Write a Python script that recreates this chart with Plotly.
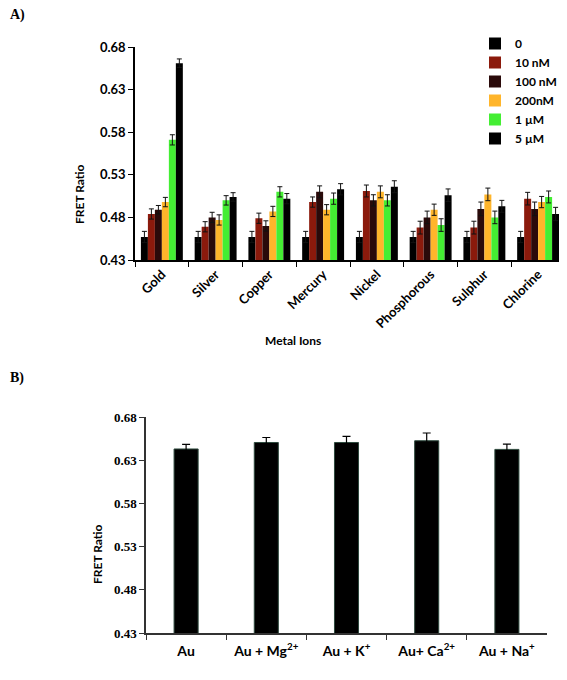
import plotly.graph_objects as go

# The page body has an 8px default margin; the figure is sized to fit the window.
OFF = 8
W, H = 567 - OFF, 680 - 2 * OFF

# ---------- Panel A data ----------
metals = ["Gold", "Silver", "Copper", "Mercury", "Nickel", "Phosphorous", "Sulphur", "Chlorine"]
series_names = ["0", "10 nM", "100 nM", "200nM", "1 µM", "5 µM"]
series_colors = ["#000000", "#8B1A0C", "#2A0A0A", "#FFB52B", "#44EE33", "#000000"]

val_0     = [0.457, 0.457, 0.457, 0.457, 0.457, 0.457, 0.457, 0.457]
val_10nM  = [0.484, 0.469, 0.479, 0.498, 0.511, 0.468, 0.468, 0.502]
val_100nM = [0.489, 0.480, 0.470, 0.510, 0.500, 0.480, 0.490, 0.490]
val_200nM = [0.498, 0.477, 0.487, 0.489, 0.510, 0.489, 0.507, 0.498]
val_1uM   = [0.571, 0.500, 0.510, 0.502, 0.500, 0.471, 0.480, 0.504]
val_5uM   = [0.661, 0.504, 0.502, 0.513, 0.516, 0.506, 0.493, 0.484]

err_0     = [0.0066, 0.0066, 0.0066, 0.0066, 0.0066, 0.0066, 0.0066, 0.0066]
err_10nM  = [0.006, 0.006, 0.006, 0.006, 0.007, 0.0075, 0.0075, 0.0074]
err_100nM = [0.005, 0.006, 0.006, 0.007, 0.0066, 0.0074, 0.008, 0.008]
err_200nM = [0.0055, 0.006, 0.006, 0.006, 0.007, 0.0066, 0.0074, 0.0066]
err_1uM   = [0.006, 0.0055, 0.006, 0.0066, 0.0066, 0.0074, 0.0074, 0.007]
err_5uM   = [0.005, 0.005, 0.006, 0.0066, 0.007, 0.0074, 0.007, 0.0078]

series_values = [val_0, val_10nM, val_100nM, val_200nM, val_1uM, val_5uM]
series_errors = [err_0, err_10nM, err_100nM, err_200nM, err_1uM, err_5uM]

# ---------- Panel B data ----------
b_categories = ["Au", "Au + Mg", "Au + K", "Au+ Ca", "Au + Na"]
b_ticktext = ["Au", "Au + Mg<sup>2+</sup>", "Au + K<sup>+</sup>", "Au+ Ca<sup>2+</sup>", "Au + Na<sup>+</sup>"]
b_values = [0.643, 0.6505, 0.6505, 0.6525, 0.6425]
b_errors = [0.0054, 0.0058, 0.007, 0.009, 0.0062]

y_ticks = [0.43, 0.48, 0.53, 0.58, 0.63, 0.68]


def px_x(x):
    return (x - OFF) / W


def px_y(y):
    return 1 - (y - OFF) / H


SANS = "Lato"
SERIF = "Liberation Serif"

fig = go.Figure()

for name, color, vals, errs in zip(series_names, series_colors, series_values, series_errors):
    fig.add_trace(go.Bar(
        x=metals, y=vals, name=name,
        marker=dict(color=color, line=dict(width=0)),
        error_y=dict(type="data", array=errs, visible=True, color="#111111", thickness=1, width=2.5),
        xaxis="x", yaxis="y",
    ))

fig.add_trace(go.Bar(
    x=b_categories, y=b_values, showlegend=False,
    marker=dict(color="#000000", line=dict(color="#2E4A3E", width=1)),
    error_y=dict(type="data", array=b_errors, visible=True, color="#000000", thickness=1.2, width=4),
    xaxis="x2", yaxis="y2", width=0.3,
))

fig.update_layout(
    width=W, height=H,
    margin=dict(l=0, r=0, t=0, b=0),
    paper_bgcolor="white", plot_bgcolor="white",
    barmode="group", bargap=0.22, bargroupgap=0,
    font=dict(family=SANS, color="#000000"),
    xaxis=dict(
        domain=[px_x(135), px_x(565)], anchor="y",
        type="category", tickson="boundaries", ticks="outside", ticklen=5, tickcolor="#000",
        showline=True, linecolor="#000", linewidth=1.5, showgrid=False,
        tickangle=-45, tickfont=dict(family=SANS, size=13, weight="bold"),
        automargin=False,
    ),
    yaxis=dict(
        domain=[px_y(260), px_y(47)], anchor="x",
        range=[0.43, 0.68], tickvals=y_ticks, tickformat=".2f",
        ticks="outside", ticklen=5, tickcolor="#000",
        showline=True, linecolor="#000", linewidth=1.5, showgrid=False, zeroline=False,
        tickfont=dict(family=SANS, size=13, weight="bold"),
        automargin=False,
    ),
    xaxis2=dict(
        domain=[px_x(146), px_x(547)], anchor="y2",
        type="category", tickson="boundaries", ticks="outside", ticklen=5, tickcolor="#333",
        tickvals=b_categories, ticktext=b_ticktext,
        showline=True, linecolor="#333", linewidth=1.5, showgrid=False,
        tickfont=dict(family=SANS, size=14, weight="bold"),
        ticklabelstandoff=4,
        automargin=False,
    ),
    yaxis2=dict(
        domain=[px_y(633), px_y(417)], anchor="x2",
        range=[0.43, 0.68], tickvals=y_ticks, tickformat=".2f",
        ticks="outside", ticklen=5, tickcolor="#333",
        showline=True, linecolor="#333", linewidth=1.5, showgrid=False, zeroline=False,
        tickfont=dict(family=SERIF, size=13, weight="bold"),
        automargin=False,
    ),
    legend=dict(
        x=px_x(475), y=px_y(29), xanchor="left", yanchor="top",
        font=dict(family=SANS, size=12, weight="bold"),
        bgcolor="rgba(0,0,0,0)", borderwidth=0, itemwidth=30,
    ),
    annotations=[
        dict(text="A)", x=px_x(8), y=px_y(15), xref="paper", yref="paper",
             xanchor="left", yanchor="middle", showarrow=False,
             font=dict(family=SERIF, size=14, weight="bold")),
        dict(text="B)", x=px_x(8), y=px_y(378), xref="paper", yref="paper",
             xanchor="left", yanchor="middle", showarrow=False,
             font=dict(family=SERIF, size=14, weight="bold")),
        dict(text="FRET Ratio", x=px_x(80), y=px_y(194), xref="paper", yref="paper",
             textangle=-90, showarrow=False, xanchor="center", yanchor="middle",
             font=dict(family=SANS, size=12, weight="bold")),
        dict(text="Metal Ions", x=px_x(293), y=px_y(340), xref="paper", yref="paper",
             showarrow=False, xanchor="center", yanchor="middle",
             font=dict(family=SANS, size=12, weight="bold")),
        dict(text="FRET Ratio", x=px_x(97), y=px_y(554), xref="paper", yref="paper",
             textangle=-90, showarrow=False, xanchor="center", yanchor="middle",
             font=dict(family=SANS, size=12, weight="bold")),
    ],
)

fig.write_html("out.html")
